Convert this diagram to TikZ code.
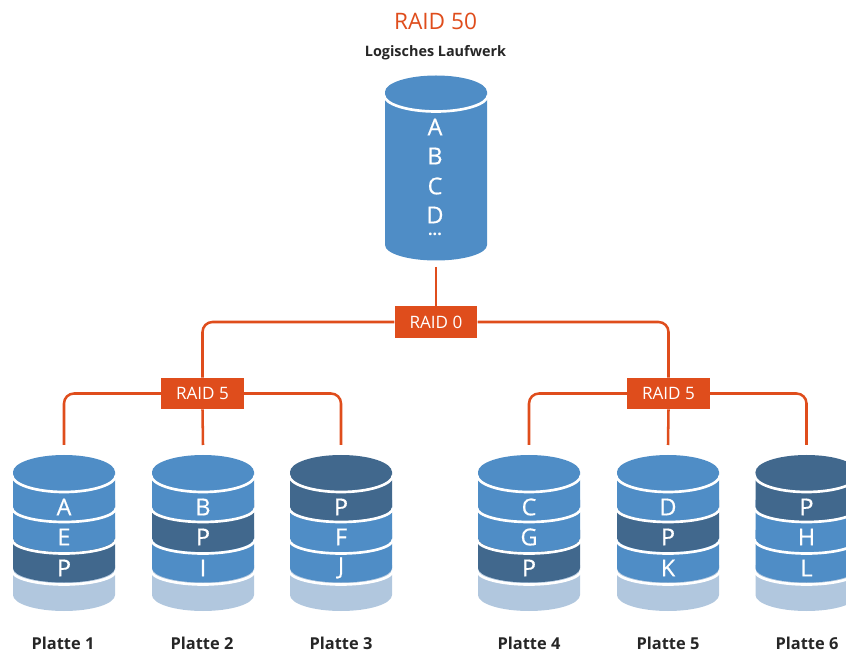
\documentclass[tikz,border=0pt]{standalone}
\usepackage{fontspec}
\setmainfont{Open Sans}
\newfontfamily\letterfont[FakeBold=0.5]{Open Sans}
\definecolor{blueA}{HTML}{4F8DC6}
\definecolor{blueD}{HTML}{41688D}
\definecolor{blueL}{HTML}{B1C7DE}
\definecolor{raidO}{HTML}{DF4D1C}
\tikzset{
  x=0.75pt,y=-0.75pt,
  raidbox/.style={fill=raidO,text=white,minimum width=62pt,minimum height=23.5pt,inner sep=0pt,font=\fontsize{12.8pt}{14pt}\selectfont},
  wire/.style={draw=raidO,line width=1.9pt,rounded corners=7.5pt},
  plattelabel/.style={font=\fontsize{12.3pt}{14pt}\selectfont\bfseries,text=black!85},
  diskletter/.style={text=white,font=\fontsize{17.5pt}{19pt}\selectfont\letterfont,inner sep=0pt},
  sep/.style={draw=white,line width=2pt}
}
\newcommand{\diskunit}[8]{% name,x,col1,col2,col3,L1,L2,L3
  \fill[blueL] (#2-51,565) -- (#2+51,565) -- (#2+51,595) arc[x radius=51,y radius=16,start angle=0,end angle=180] -- cycle;
  \fill[#5] (#2-51,530) -- (#2+51,530) -- (#2+51,568) arc[x radius=51,y radius=14.5,start angle=0,end angle=180] -- cycle;
  \draw[sep] (#2-52,570.5) arc[x radius=52,y radius=14,start angle=180,end angle=0];
  \fill[#4] (#2-51,500) -- (#2+51,500) -- (#2+51,538) arc[x radius=51,y radius=14,start angle=0,end angle=180] -- cycle;
  \draw[sep] (#2-52,539.5) arc[x radius=52,y radius=14,start angle=180,end angle=0];
  \fill[#3] (#2-51,472) -- (#2+51,472) -- (#2+51,507) arc[x radius=51,y radius=14,start angle=0,end angle=180] -- cycle;
  \draw[sep] (#2-52,508) arc[x radius=52,y radius=14,start angle=180,end angle=0];
  \draw[sep] (#2-52,475) arc[x radius=52,y radius=17,start angle=180,end angle=0];
  \fill[#3] (#2,472) ellipse[x radius=51,y radius=17];
  \node[diskletter] (#1a) at (#2,507) {#6};
  \node[diskletter] (#1b) at (#2,537) {#7};
  \node[diskletter] (#1c) at (#2,568) {#8};
  \coordinate (#1top) at (#2,445);
}
\begin{document}
\begin{tikzpicture}
\useasboundingbox (0,0) rectangle (846,655);
\clip (0,0) rectangle (846,655);
% main cylinder
\fill[blueA] (385,92) -- (487,92) -- (487,245) arc[x radius=51,y radius=15.5,start angle=0,end angle=180] -- cycle;
\draw[sep] (384,95) arc[x radius=52,y radius=16.5,start angle=180,end angle=0];
\fill[blueA] (436,92) ellipse[x radius=51,y radius=16.5];
\node[diskletter] (mA) at (435,127) {A};
\node[diskletter] (mB) at (435,156) {B};
\node[diskletter] (mC) at (435,186) {C};
\node[diskletter] (mD) at (435,215) {D};
\node[diskletter,font=\fontsize{12pt}{13pt}\selectfont\bfseries,anchor=base] (mDots) at (435,236) {...};
\coordinate (mainBottom) at (436,267);
\node[text=raidO,font=\fontsize{17pt}{19pt}\selectfont,inner sep=0pt] (title) at (435.5,21) {RAID 50};
\node[font=\fontsize{10.8pt}{13pt}\selectfont\bfseries,text=black!85,inner sep=0pt] (subtitle) at (435.5,53) {Logisches Laufwerk};
% disks
\diskunit{d1}{64}{blueA}{blueA}{blueD}{A}{E}{P}
\diskunit{d2}{203}{blueA}{blueD}{blueA}{B}{P}{I}
\diskunit{d3}{341}{blueD}{blueA}{blueA}{P}{F}{J}
\diskunit{d4}{529}{blueA}{blueA}{blueD}{C}{G}{P}
\diskunit{d5}{668}{blueA}{blueD}{blueA}{D}{P}{K}
\diskunit{d6}{806.5}{blueD}{blueA}{blueA}{P}{H}{L}
% connectors
\node[raidbox] (r0) at (436,322) {RAID 0};
\node[raidbox] (r5a) at (202.5,393.5) {RAID 5};
\node[raidbox] (r5b) at (668.5,393.5) {RAID 5};
\draw[wire] (mainBottom) -- (r0.north);
\draw[wire] (r0.west) -| (r5a.north);
\draw[wire] (r0.east) -| (r5b.north);
\draw[wire] (r5a.west) -| (d1top);
\draw[wire] (r5a.south) -- (d2top);
\draw[wire] (r5a.east) -| (d3top);
\draw[wire] (r5b.west) -| (d4top);
\draw[wire] (r5b.south) -- (d5top);
\draw[wire] (r5b.east) -| (d6top);
% labels
\node[plattelabel] (p1) at (63,643) {Platte 1};
\node[plattelabel] (p2) at (202,643) {Platte 2};
\node[plattelabel] (p3) at (341,643) {Platte 3};
\node[plattelabel] (p4) at (529,643) {Platte 4};
\node[plattelabel] (p5) at (668,643) {Platte 5};
\node[plattelabel] (p6) at (807,643) {Platte 6};
\end{tikzpicture}
\end{document}
